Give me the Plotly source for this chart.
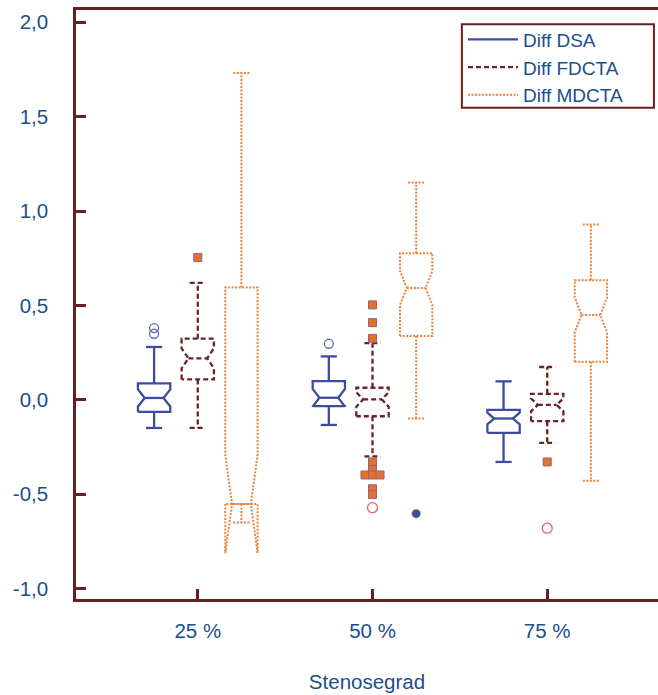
import plotly.graph_objects as go

# ---------------- data ----------------
categories = ["25 %", "50 %", "75 %"]
series_names = ["Diff DSA", "Diff FDCTA", "Diff MDCTA"]

# box statistics per category (25 %, 50 %, 75 %)
dsa_q1 = [-0.064, -0.033, -0.175]
dsa_med = [0.010, 0.011, -0.099]
dsa_q3 = [0.087, 0.099, -0.053]
dsa_lo = [-0.149, -0.133, -0.329]
dsa_hi = [0.280, 0.230, 0.098]
dsa_notch = [0.045, 0.047, 0.031]

fd_q1 = [0.108, -0.087, -0.113]
fd_med = [0.220, 0.002, -0.027]
fd_q3 = [0.324, 0.064, 0.032]
fd_lo = [-0.149, -0.300, -0.228]
fd_hi = [0.620, 0.300, 0.174]
fd_notch = [0.053, 0.038, 0.034]

md_q1 = [-0.552, 0.338, 0.202]
md_med = [-0.552, 0.593, 0.450]
md_q3 = [0.595, 0.777, 0.634]
md_lo = [-0.650, -0.099, -0.428]
md_hi = [1.731, 1.151, 0.929]
md_notch = [0.260, 0.090, 0.092]

# outliers: (category index, value)
dsa_out_cat = [0, 0, 1]
dsa_out_val = [0.380, 0.350, 0.297]

fd_ext_cat = [0, 1, 1, 1, 1, 1, 1, 1, 1, 1, 1, 2]
fd_ext_val = [0.754, 0.503, 0.409, 0.326, -0.329, -0.370, -0.398, -0.398, -0.398, -0.471, -0.501, -0.329]

fd_out_cat = [1, 2]
fd_out_val = [-0.571, -0.680]

md_out_cat = [1]
md_out_val = [-0.603]

y_tickvals = [-1.0, -0.5, 0.0, 0.5, 1.0, 1.5, 2.0]
y_ticktext = ["-1,0", "-0,5", "0,0", "0,5", "1,0", "1,5", "2,0"]

# ---------------- styles ----------------
AXIS = "#6b1f22"
TEXT = "#1b4f8a"
C_DSA = "#3d4ca0"
C_FD = "#6a2326"
C_MD = "#e8843c"
FONT = "Liberation Sans, Arial, sans-serif"

OFFSETS = [-0.25, 0.0, 0.25]
BOX_W = 0.185
NOTCH_W = 0.21
JITTER = 0.043


def box_outline(cats_n, q1s, meds, q3s, los, his, notches, offset):
    xs, ys = [], []
    for i in range(cats_n):
        xc = i + offset
        left, right = xc - BOX_W / 2, xc + BOX_W / 2
        nl, nr = left + NOTCH_W * BOX_W, right - NOTCH_W * BOX_W
        q1, med, q3, lo, hi, n = q1s[i], meds[i], q3s[i], los[i], his[i], notches[i]
        ln, un = med - n, med + n
        cw = BOX_W / 4
        xs += [left, left, nl, left, left, right, right, nr, right, right, left, None,
               nl, nr, None,
               xc, xc, None, xc - cw, xc + cw, None,
               xc, xc, None, xc - cw, xc + cw, None]
        ys += [q1, ln, med, un, q3, q3, un, med, ln, q1, q1, None,
               med, med, None,
               q3, hi, None, hi, hi, None,
               q1, lo, None, lo, lo, None]
    return xs, ys


def spread(cats, vals, offset):
    xs = []
    for k, (c, v) in enumerate(zip(cats, vals)):
        same = [j for j, (c2, v2) in enumerate(zip(cats, vals)) if c2 == c and v2 == v]
        n = len(same)
        pos = same.index(k)
        xs.append(c + offset + (pos - (n - 1) / 2) * JITTER)
    return xs


fig = go.Figure()

specs = [
    (series_names[0], dsa_q1, dsa_med, dsa_q3, dsa_lo, dsa_hi, dsa_notch, OFFSETS[0], C_DSA, "solid", 2.3),
    (series_names[1], fd_q1, fd_med, fd_q3, fd_lo, fd_hi, fd_notch, OFFSETS[1], C_FD, "5px,3px", 2.3),
    (series_names[2], md_q1, md_med, md_q3, md_lo, md_hi, md_notch, OFFSETS[2], C_MD, "2px,1.5px", 2.0),
]
for name, q1, med, q3, lo, hi, nt, off, col, dash, lw in specs:
    xs, ys = box_outline(len(categories), q1, med, q3, lo, hi, nt, off)
    fig.add_trace(go.Scatter(x=xs, y=ys, mode="lines", name=name,
                             line=dict(color=col, width=lw, dash=dash),
                             hoverinfo="skip"))

# outliers
fig.add_trace(go.Scatter(x=spread(dsa_out_cat, dsa_out_val, OFFSETS[0]), y=dsa_out_val,
                         mode="markers", showlegend=False,
                         marker=dict(symbol="circle-open", size=9, color="#5f6db8",
                                     line=dict(width=1.3, color="#5f6db8"))))
fig.add_trace(go.Scatter(x=spread(fd_ext_cat, fd_ext_val, OFFSETS[1]), y=fd_ext_val,
                         mode="markers", showlegend=False,
                         marker=dict(symbol="square", size=8, color="#e0722f",
                                     line=dict(width=1, color="#a0607c"))))
fig.add_trace(go.Scatter(x=spread(fd_out_cat, fd_out_val, OFFSETS[1]), y=fd_out_val,
                         mode="markers", showlegend=False,
                         marker=dict(symbol="circle-open", size=10, color="#e06868",
                                     line=dict(width=1.3, color="#e06868"))))
fig.add_trace(go.Scatter(x=spread(md_out_cat, md_out_val, OFFSETS[2]), y=md_out_val,
                         mode="markers", showlegend=False,
                         marker=dict(symbol="circle", size=9, color="#3450a0",
                                     line=dict(width=1, color="#d8c060"))))

fig.update_layout(
    width=658, height=695,
    margin=dict(l=76, r=0, t=10, b=96),
    paper_bgcolor="white", plot_bgcolor="white",
    font=dict(family=FONT, color=TEXT, size=19),
    showlegend=True,
    legend=dict(x=0.665, y=0.982, xanchor="left", yanchor="top",
                bgcolor="rgba(0,0,0,0)", borderwidth=0,
                font=dict(size=19, color=TEXT), itemwidth=50,
                tracegroupgap=0),
    xaxis=dict(range=[-0.697, 2.634], tickvals=[0, 1, 2], ticktext=categories,
               ticks="inside", ticklen=10, tickwidth=2.5, tickcolor=AXIS,
               showline=True, linecolor=AXIS, linewidth=2.5, mirror=True,
               showgrid=False, zeroline=False,
               tickfont=dict(size=20.5, color=TEXT), ticklabelstandoff=12,
               title=dict(text="Stenosegrad", font=dict(size=20.5, color=TEXT), standoff=34)),
    yaxis=dict(range=[-1.055, 2.065], tickvals=y_tickvals, ticktext=y_ticktext,
               ticks="inside", ticklen=10, tickwidth=2.5, tickcolor=AXIS,
               showline=True, linecolor=AXIS, linewidth=2.5, mirror=False,
               showgrid=False, zeroline=False,
               tickfont=dict(size=20.5, color=TEXT), ticklabelstandoff=21),
    shapes=[dict(type="rect", xref="paper", yref="paper",
                 x0=0.663, x1=0.993, y0=0.834, y1=0.976,
                 line=dict(color=AXIS, width=2), fillcolor="rgba(0,0,0,0)")],
)

fig.write_html("out.html")
